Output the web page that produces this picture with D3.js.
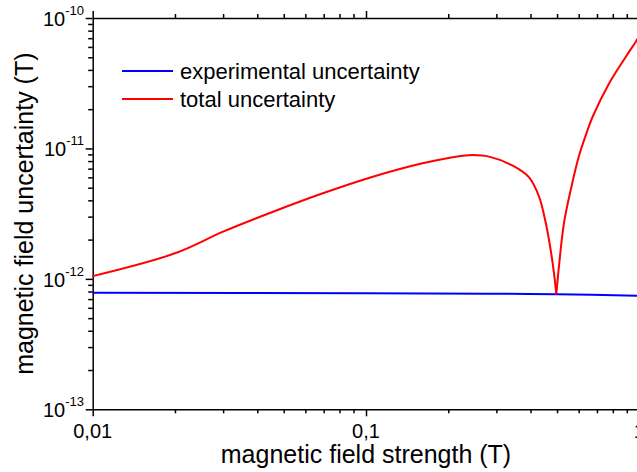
<!DOCTYPE html>
<html>
<head>
<meta charset="utf-8">
<script src="https://cdn.jsdelivr.net/npm/d3@7"></script>
<style>
  body { margin: 0; background: #fff; }
  svg { display: block; font-family: "Liberation Sans", Arial, sans-serif; }
  .axis path, .axis line { stroke: #000; stroke-width: 1.5; }
</style>
</head>
<body>
<svg id="chart" width="637" height="472"></svg>
<script>
// values
const expField = [0.01, 0.1, 0.28, 0.5, 1];
const expUnc = [7.82e-13, 7.75e-13, 7.69e-13, 7.62e-13, 7.41e-13];

const totField = [0.01, 0.02, 0.03, 0.0457, 0.0695, 0.106, 0.161, 0.213, 0.245, 0.282,
                  0.343, 0.395, 0.43, 0.455, 0.474, 0.4875, 0.497, 0.508, 0.53, 0.561,
                  0.6, 0.64, 0.675, 0.776, 0.893, 0.971, 1.0];
const totUnc = [1.05e-12, 1.57e-12, 2.3e-12, 3.27e-12, 4.53e-12, 6.07e-12, 7.69e-12, 8.64e-12, 8.89e-12, 8.65e-12,
                7.4e-12, 6.0e-12, 4.26e-12, 2.67e-12, 1.66e-12, 1.1e-12, 7.62e-13, 1.24e-12, 2.67e-12, 4.8e-12,
                8.6e-12, 1.3e-11, 1.75e-11, 3.16e-11, 5.05e-11, 6.58e-11, 7.3e-11];

const xTicks = [0.01, 0.1, 1];
const xTickLabels = ["0,01", "0,1", "1"];
const yTicks = [1e-13, 1e-12, 1e-11, 1e-10];
const yTickExps = ["-13", "-12", "-11", "-10"];

const seriesNames = ["experimental uncertainty", "total uncertainty"];
const seriesColors = ["#0000ff", "#ff0000"];

const svg = d3.select("#chart");
const plotLeft = 92.7, plotRight = 639.3, plotTop = 18, plotBottom = 409.3;

const x = d3.scaleLog([0.01, 1], [plotLeft, plotRight]);
const y = d3.scaleLog([1e-13, 1e-10], [plotBottom, plotTop]);

function minors(lo, hi) {
  const out = [];
  for (let d = lo; d < hi * 0.999; d *= 10)
    for (let k = 2; k <= 9; k++) out.push(d * k);
  return out;
}
const xMinor = minors(0.01, 1);
const yMinor = minors(1e-13, 1e-10);

// bottom and top axes
svg.append("g").attr("class", "axis")
  .attr("transform", `translate(0,${plotBottom})`)
  .call(d3.axisBottom(x).tickValues(xTicks).tickFormat("").tickSizeInner(7).tickSizeOuter(0));
svg.append("g").attr("class", "axis")
  .attr("transform", `translate(0,${plotBottom})`)
  .call(d3.axisBottom(x).tickValues(xMinor).tickFormat("").tickSizeInner(4).tickSizeOuter(0))
  .select(".domain").remove();
svg.append("g").attr("class", "axis")
  .attr("transform", `translate(0,${plotTop})`)
  .call(d3.axisTop(x).tickValues(xTicks).tickFormat("").tickSizeInner(7).tickSizeOuter(0));
svg.append("g").attr("class", "axis")
  .attr("transform", `translate(0,${plotTop})`)
  .call(d3.axisTop(x).tickValues(xMinor).tickFormat("").tickSizeInner(4).tickSizeOuter(0))
  .select(".domain").remove();

// left and right axes
svg.append("g").attr("class", "axis")
  .attr("transform", `translate(${plotLeft},0)`)
  .call(d3.axisLeft(y).tickValues(yTicks).tickFormat("").tickSizeInner(7).tickSizeOuter(0));
svg.append("g").attr("class", "axis")
  .attr("transform", `translate(${plotLeft},0)`)
  .call(d3.axisLeft(y).tickValues(yMinor).tickFormat("").tickSizeInner(4.5).tickSizeOuter(0))
  .select(".domain").remove();
svg.append("g").attr("class", "axis")
  .attr("transform", `translate(${plotRight},0)`)
  .call(d3.axisRight(y).tickValues(yTicks).tickFormat("").tickSizeInner(7).tickSizeOuter(0));

// tick labels
svg.append("g").selectAll("text")
  .data(xTicks)
  .join("text")
  .attr("x", d => x(d))
  .attr("y", 438)
  .attr("text-anchor", "middle")
  .attr("font-size", 20)
  .text((d, i) => xTickLabels[i]);

const yl = svg.append("g").selectAll("text")
  .data(yTicks)
  .join("text")
  .attr("x", 84)
  .attr("y", d => y(d) + 8)
  .attr("text-anchor", "end")
  .attr("font-size", 20);
yl.append("tspan").text("10");
yl.append("tspan").attr("dy", -11).attr("font-size", 13).text((d, i) => yTickExps[i]);

// axis titles
svg.append("text")
  .attr("x", (plotLeft + plotRight) / 2)
  .attr("y", 463)
  .attr("text-anchor", "middle")
  .attr("font-size", 25)
  .text("magnetic field strength (T)");
svg.append("text")
  .attr("transform", `translate(33,${(plotTop + plotBottom) / 2}) rotate(-90)`)
  .attr("text-anchor", "middle")
  .attr("font-size", 25)
  .text("magnetic field uncertainty (T)");

// curves
const line = d3.line().x(d => x(d[0])).y(d => y(d[1])).curve(d3.curveCatmullRom.alpha(0.5));
svg.append("path")
  .datum(expField.map((f, i) => [f, expUnc[i]]))
  .attr("fill", "none")
  .attr("stroke", seriesColors[0])
  .attr("stroke-width", 2)
  .attr("d", line);

// split the total curve at its dip so the cusp stays sharp
const tot = totField.map((f, i) => [f, totUnc[i]]);
const dip = d3.minIndex(totUnc);
svg.append("path")
  .datum(tot.slice(0, dip + 1))
  .attr("fill", "none")
  .attr("stroke", seriesColors[1])
  .attr("stroke-width", 2)
  .attr("d", line);
svg.append("path")
  .datum(tot.slice(dip))
  .attr("fill", "none")
  .attr("stroke", seriesColors[1])
  .attr("stroke-width", 2)
  .attr("d", line);

// legend
const lg = svg.append("g").selectAll("g")
  .data(seriesNames)
  .join("g")
  .attr("transform", (d, i) => `translate(0,${71 + i * 28})`);
lg.append("line")
  .attr("x1", 122).attr("x2", 173)
  .attr("stroke", (d, i) => seriesColors[i])
  .attr("stroke-width", 2);
lg.append("text")
  .attr("x", 180)
  .attr("y", 7.5)
  .attr("font-size", 22)
  .text(d => d);
</script>
</body>
</html>
